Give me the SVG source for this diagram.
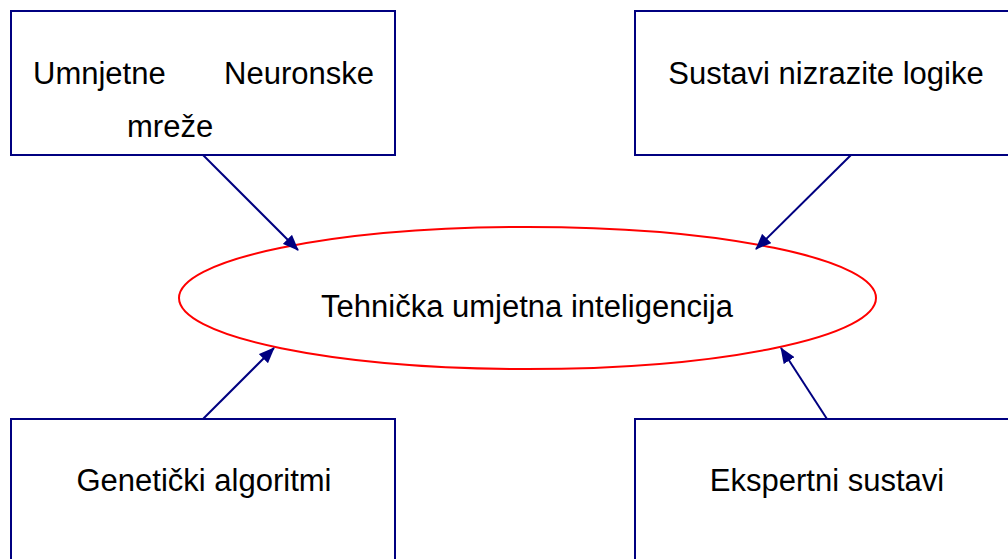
<svg xmlns="http://www.w3.org/2000/svg" width="1008" height="559" viewBox="0 0 1008 559">
<style>
.box{fill:#fff;stroke:#000080;stroke-width:2}
.lbl{font-family:"Liberation Sans",Arial,sans-serif;font-size:31px;fill:#000}
.conn{stroke:#000080;stroke-width:2;fill:none}
</style>
<defs>
<marker id="ah" viewBox="0 0 16 13" refX="15" refY="6.5" markerWidth="16" markerHeight="13" markerUnits="userSpaceOnUse" orient="auto">
<path d="M0,0 L16,6.5 L0,13 Z" fill="#000080"/>
</marker>
</defs>
<rect width="1008" height="559" fill="#fff"/>
<g id="node-neuronske">
<rect class="box" x="11" y="11" width="384" height="144"/>
<text class="lbl"><tspan x="33" y="84">Umnjetne</tspan><tspan x="374" y="84" text-anchor="end">Neuronske</tspan><tspan x="127" y="137">mreže</tspan></text>
</g>
<g id="node-nizrazite">
<rect class="box" x="635" y="11" width="390" height="144"/>
<text class="lbl" x="826" y="84" text-anchor="middle">Sustavi nizrazite logike</text>
</g>
<g id="node-genetski">
<rect class="box" x="11" y="419" width="384" height="160"/>
<text class="lbl" x="204" y="491" text-anchor="middle">Genetički algoritmi</text>
</g>
<g id="node-ekspertni">
<rect class="box" x="635" y="419" width="390" height="160"/>
<text class="lbl" x="827" y="491" text-anchor="middle">Ekspertni sustavi</text>
</g>
<g id="node-center">
<ellipse cx="527.5" cy="298" rx="348.5" ry="71" fill="#fff" stroke="#ff0000" stroke-width="2"/>
<text class="lbl" x="527" y="317" text-anchor="middle">Tehnička umjetna inteligencija</text>
</g>
<g id="connectors">
<line class="conn" x1="203" y1="155" x2="298" y2="250" marker-end="url(#ah)"/>
<line class="conn" x1="851" y1="155" x2="756" y2="249" marker-end="url(#ah)"/>
<line class="conn" x1="203" y1="419" x2="274" y2="348" marker-end="url(#ah)"/>
<line class="conn" x1="827" y1="419" x2="781" y2="348" marker-end="url(#ah)"/>
</g>
</svg>
